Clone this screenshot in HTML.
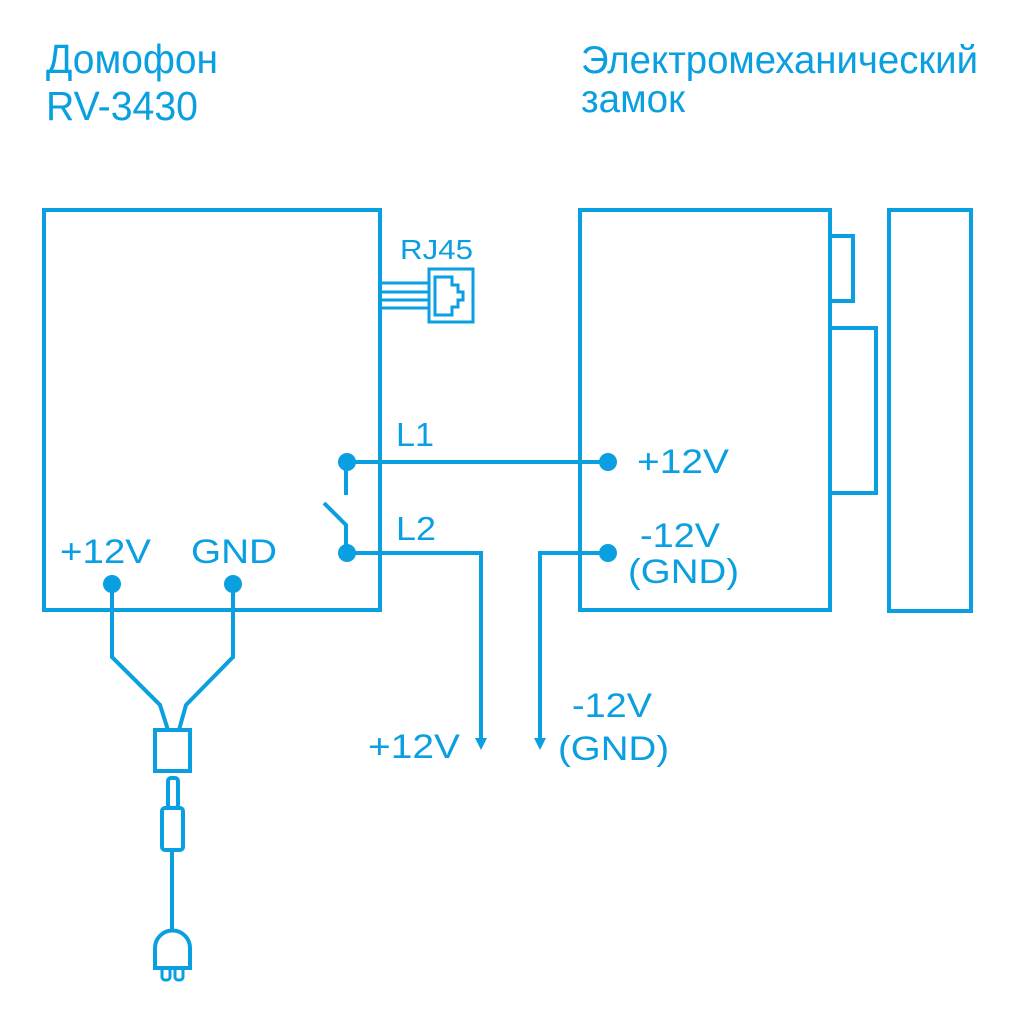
<!DOCTYPE html>
<html><head><meta charset="utf-8"><style>body{margin:0;background:#fff}svg{display:block}</style></head>
<body>
<svg width="1020" height="1024" viewBox="0 0 1020 1024" xmlns="http://www.w3.org/2000/svg">
<g fill="#0a9fe0" font-family="Liberation Sans, sans-serif">
<text x="46" y="73" font-size="41" textLength="172" lengthAdjust="spacingAndGlyphs">Домофон</text>
<text x="46" y="120" font-size="41" textLength="152" lengthAdjust="spacingAndGlyphs">RV-3430</text>
<text x="581" y="73" font-size="39" textLength="397" lengthAdjust="spacingAndGlyphs">Электромеханический</text>
<text x="581" y="112" font-size="39" textLength="104" lengthAdjust="spacingAndGlyphs">замок</text>
<text x="400" y="259" font-size="28" textLength="73" lengthAdjust="spacingAndGlyphs">RJ45</text>
<text x="396" y="446" font-size="33" textLength="38" lengthAdjust="spacingAndGlyphs">L1</text>
<text x="396" y="540" font-size="33" textLength="40" lengthAdjust="spacingAndGlyphs">L2</text>
<text x="60" y="563" font-size="34" textLength="91" lengthAdjust="spacingAndGlyphs">+12V</text>
<text x="191" y="563" font-size="34" textLength="86" lengthAdjust="spacingAndGlyphs">GND</text>
<text x="637" y="473" font-size="34" textLength="92" lengthAdjust="spacingAndGlyphs">+12V</text>
<text x="640" y="547" font-size="34" textLength="80" lengthAdjust="spacingAndGlyphs">-12V</text>
<text x="628" y="583" font-size="34" textLength="111" lengthAdjust="spacingAndGlyphs">(GND)</text>
<text x="368" y="758" font-size="34" textLength="92" lengthAdjust="spacingAndGlyphs">+12V</text>
<text x="572" y="717" font-size="34" textLength="80" lengthAdjust="spacingAndGlyphs">-12V</text>
<text x="558" y="760" font-size="34" textLength="111" lengthAdjust="spacingAndGlyphs">(GND)</text>
</g>
<g fill="none" stroke="#0a9fe0" stroke-width="4">
<rect x="44" y="210" width="336" height="400"/>
<rect x="580" y="210" width="250" height="400"/>
<rect x="830" y="236" width="23" height="65"/>
<rect x="830" y="328" width="46" height="165"/>
<rect x="889" y="210" width="82" height="401"/>
<path d="M380 283H428M380 292H428M380 300H428M380 308H428" stroke-width="3"/>
<rect x="429" y="269" width="44" height="53" stroke-width="3"/>
<path d="M435 277H452V285H458V292H463V300H458V307H452V315H435Z" stroke-width="3"/>
<path d="M347 462H608"/>
<path d="M346 462V495M324 503L346 525V553"/>
<path d="M347 553H481V745"/>
<path d="M608 553H540V745"/>
<path d="M112 584V657L160 705L168 730M233 584V657L186 705L179 730"/>
<rect x="155" y="730" width="35" height="41"/>
<rect x="168" y="778" width="10" height="30" rx="3"/>
<rect x="162" y="808" width="21" height="42" rx="3"/>
<path d="M172 850V932"/>
<path d="M155 968V948A17 17 0 0 1 190 948V968Z"/>
<rect x="162" y="968" width="8" height="12" rx="3" stroke-width="3"/>
<rect x="175" y="968" width="8" height="12" rx="3" stroke-width="3"/>
</g>
<g fill="#0a9fe0">
<circle cx="347" cy="462" r="9"/><circle cx="608" cy="462" r="9"/>
<circle cx="347" cy="553" r="9"/><circle cx="608" cy="553" r="9"/>
<circle cx="112" cy="584" r="9"/><circle cx="233" cy="584" r="9"/>
<path d="M475 738H487L481 750Z"/><path d="M534 738H546L540 750Z"/>
</g>
</svg>
</body></html>
